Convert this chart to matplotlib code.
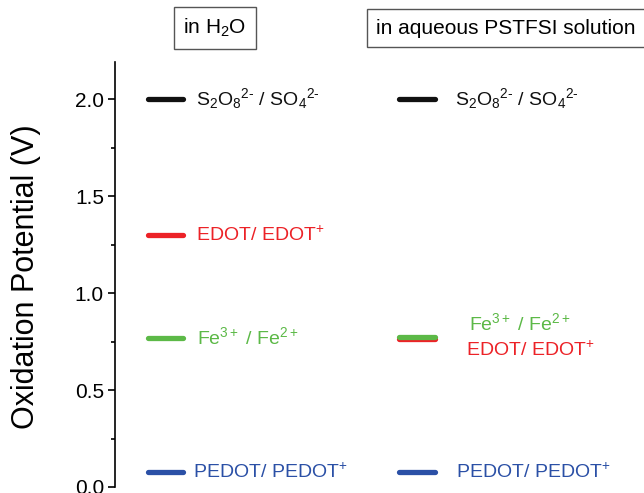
import matplotlib
matplotlib.use("Agg")
import matplotlib.pyplot as plt
from matplotlib.ticker import MultipleLocator

plt.rcParams['font.family'] = ['Liberation Sans', 'DejaVu Sans']
plt.rcParams['mathtext.fontset'] = 'custom'
plt.rcParams['mathtext.rm'] = 'Liberation Sans'
plt.rcParams['mathtext.it'] = 'Liberation Sans:italic'
plt.rcParams['mathtext.bf'] = 'Liberation Sans:bold'

# ---- data ----
columns = ["in H$_2$O", "in aqueous PSTFSI solution"]
couples = [r"S$_2$O$_8$$^{\text{2-}}$ / SO$_4$$^{\text{2-}}$",
           "EDOT/ EDOT$^{+}$",
           "Fe$^{3+}$ / Fe$^{2+}$",
           "PEDOT/ PEDOT$^{+}$"]
pot_h2o = [2.00, 1.30, 0.77, 0.076]
pot_pstfsi = [2.00, 0.761, 0.775, 0.076]
colors = ["#111111", "#ec2227", "#5cb947", "#2b50a6"]
yticks = [0.0, 0.5, 1.0, 1.5, 2.0]

# ---- figure ----
W, H = 644, 493
fig = plt.figure(figsize=(W / 100, H / 100), dpi=100)
ax_left, ax_right, ax_top, ax_bot = 115, 644, 62, 487
ax = fig.add_axes([ax_left / W, (H - ax_bot) / H,
                   (ax_right - ax_left) / W, (ax_bot - ax_top) / H])

unit = 251.5
x0px = 165.5
ax.set_xlim(-(x0px - ax_left) / unit, (ax_right - x0px) / unit)
ax.set_ylim(0.0, 2.0 + (99 - ax_top) / 194.0)

half = 0.07
# label x offsets (data units) and y offsets (points) per column / couple
lab_dx = [[0.122, 0.122, 0.125, 0.110],
          [0.151, 0.195, 0.207, 0.154]]
lab_dy = [[0, 0, 0, 0],
          [0, -8, 10, 0]]

for ci, pots in enumerate([pot_h2o, pot_pstfsi]):
    order = [0, 3, 1, 2] if ci == 1 else [0, 1, 2, 3]
    for k in order:
        y = pots[k]
        ax.plot([ci - half, ci + half], [y, y], color=colors[k], lw=3.8,
                solid_capstyle='round', zorder=3 + k)
        ax.annotate(couples[k], xy=(ci + lab_dx[ci][k], y),
                    xytext=(0, lab_dy[ci][k]), textcoords='offset points',
                    color=colors[k], fontsize=14, ha='left', va='center')

for s in ['top', 'right', 'bottom']:
    ax.spines[s].set_visible(False)
ax.spines['left'].set_linewidth(1.2)
ax.set_xticks([])
ax.set_yticks(yticks)
ax.set_yticklabels([f"{v:.1f}" for v in yticks])
ax.yaxis.set_minor_locator(MultipleLocator(0.25))
ax.tick_params(axis='y', which='major', direction='out', length=5, width=1.2,
               labelsize=15, pad=3)
ax.tick_params(axis='y', which='minor', direction='out', length=3, width=1.2)

fig.text(26 / W, 1 - 277 / H, "Oxidation Potential (V)", rotation=90,
         fontsize=22, ha='center', va='center')

box = dict(boxstyle='square,pad=0.45', facecolor='white', edgecolor='#555555', lw=1.0)
fig.text(215 / W, 1 - 28 / H, columns[0], fontsize=15, ha='center', va='center', bbox=box)
fig.text(376 / W, 1 - 28 / H, columns[1], fontsize=15, ha='left', va='center', bbox=box)

fig.savefig("out.png", dpi=100)
